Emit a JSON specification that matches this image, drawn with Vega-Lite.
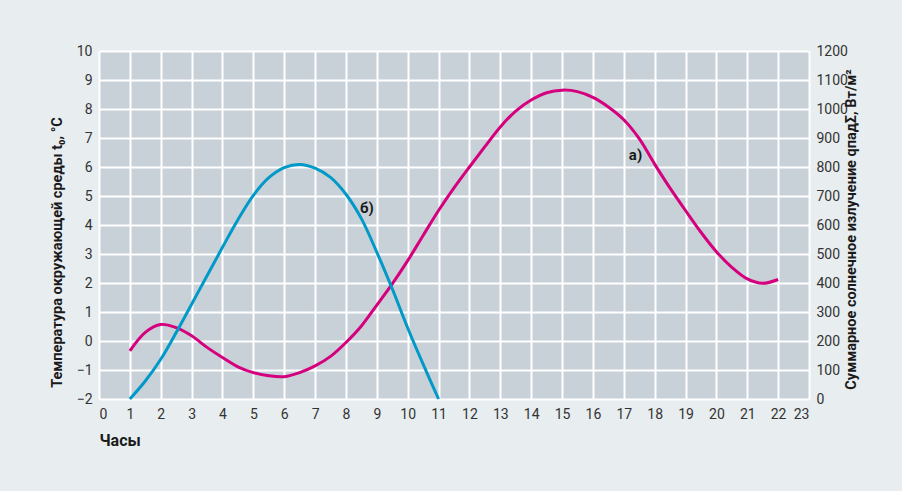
{
  "$schema": "https://vega.github.io/schema/vega-lite/v6.json",
  "width": 710,
  "height": 348,
  "autosize": {"type": "none"},
  "padding": {"left": 99, "top": 51, "right": 93, "bottom": 92},
  "background": "#e8edf0",
  "config": {
    "view": {"fill": "#c9d1d8", "stroke": null},
    "axis": {
      "domain": false,
      "ticks": false,
      "gridColor": "#ffffff",
      "gridWidth": 2,
      "gridOpacity": 1,
      "labelFont": "Roboto, sans-serif",
      "labelFontSize": 14,
      "labelColor": "#333333",
      "labelPadding": 7,
      "labelOverlap": false,
      "titleFont": "Roboto, sans-serif",
      "titleFontWeight": "bold",
      "titleColor": "#1a1a1a",
      "titleFontSize": 14.5
    }
  },
  "datasets": {
    "temp": [
      {"hour": 1, "t": -0.34}, {"hour": 1.5, "t": 0.3}, {"hour": 2, "t": 0.57}, {"hour": 2.5, "t": 0.46},
      {"hour": 3, "t": 0.18}, {"hour": 3.5, "t": -0.22}, {"hour": 4, "t": -0.57}, {"hour": 4.5, "t": -0.89},
      {"hour": 5, "t": -1.09}, {"hour": 5.5, "t": -1.2}, {"hour": 6, "t": -1.23}, {"hour": 6.5, "t": -1.09},
      {"hour": 7, "t": -0.86}, {"hour": 7.5, "t": -0.53}, {"hour": 8, "t": -0.05}, {"hour": 8.5, "t": 0.52},
      {"hour": 9, "t": 1.24}, {"hour": 9.5, "t": 1.97}, {"hour": 10, "t": 2.77}, {"hour": 10.5, "t": 3.64},
      {"hour": 11, "t": 4.5}, {"hour": 11.5, "t": 5.28}, {"hour": 12, "t": 6.0}, {"hour": 12.5, "t": 6.7},
      {"hour": 13, "t": 7.38}, {"hour": 13.5, "t": 7.93}, {"hour": 14, "t": 8.31}, {"hour": 14.5, "t": 8.56},
      {"hour": 15, "t": 8.65}, {"hour": 15.5, "t": 8.6}, {"hour": 16, "t": 8.4}, {"hour": 16.5, "t": 8.07},
      {"hour": 17, "t": 7.63}, {"hour": 17.5, "t": 6.98}, {"hour": 18, "t": 6.1}, {"hour": 18.5, "t": 5.27},
      {"hour": 19, "t": 4.5}, {"hour": 19.5, "t": 3.75}, {"hour": 20, "t": 3.08}, {"hour": 20.5, "t": 2.54},
      {"hour": 21, "t": 2.14}, {"hour": 21.5, "t": 1.99}, {"hour": 22, "t": 2.12}
    ],
    "rad": [
      {"hour": 1, "q": 0}, {"hour": 1.5, "q": 62}, {"hour": 2, "q": 137}, {"hour": 2.5, "q": 229},
      {"hour": 3, "q": 327}, {"hour": 3.5, "q": 425}, {"hour": 4, "q": 523}, {"hour": 4.5, "q": 618},
      {"hour": 5, "q": 702}, {"hour": 5.5, "q": 763}, {"hour": 6, "q": 798}, {"hour": 6.5, "q": 809},
      {"hour": 7, "q": 796}, {"hour": 7.5, "q": 764}, {"hour": 8, "q": 706}, {"hour": 8.5, "q": 622},
      {"hour": 9, "q": 506}, {"hour": 9.5, "q": 380}, {"hour": 10, "q": 245}, {"hour": 10.5, "q": 120},
      {"hour": 11, "q": 0}
    ],
    "labels": [
      {"hour": 8.68, "t": 4.58, "label": "б)"},
      {"hour": 17.38, "t": 6.4, "label": "а)"}
    ]
  },
  "encoding": {
    "x": {"field": "hour", "type": "quantitative", "scale": {"domain": [0, 23], "nice": false},
      "axis": {"values": [0,1,2,3,4,5,6,7,8,9,10,11,12,13,14,15,16,17,18,19,20,21,22,23], "title": "Часы", "titleX": 0, "titleY": 46, "titleAlign": "left", "titleBaseline": "alphabetic", "titleFontSize": 16, "labelBaseline": "top", "labelPadding": 8}}
  },
  "layer": [
    {
      "encoding": {
        "y": {"field": "t", "type": "quantitative", "scale": {"domain": [-2, 10], "nice": false, "zero": false},
          "axis": {"values": [-2,-1,0,1,2,3,4,5,6,7,8,9,10], "title": "Температура окружающей среды t₀, °C", "titleX": -42, "titleY": 201, "titleAlign": "center", "titleBaseline": "middle", "titleAngle": 270}}
      },
      "layer": [
        {
          "data": {"name": "temp"},
          "mark": {"type": "line", "color": "#d5007d", "strokeWidth": 3, "interpolate": "catmull-rom"}
        },
        {
          "data": {"name": "labels"},
          "mark": {"type": "text", "font": "Roboto, sans-serif", "fontWeight": "bold", "fontSize": 15, "color": "#1a1a1a", "align": "center", "baseline": "middle"},
          "encoding": {
            "text": {"field": "label", "type": "nominal"}
          }
        }
      ]
    },
    {
      "data": {"name": "rad"},
      "mark": {"type": "line", "color": "#0099c8", "strokeWidth": 3, "interpolate": "catmull-rom"},
      "encoding": {
        "y": {"field": "q", "type": "quantitative", "scale": {"domain": [0, 1200], "nice": false},
          "axis": {"orient": "right", "grid": false, "format": "d", "values": [0,100,200,300,400,500,600,700,800,900,1000,1100,1200], "title": "Суммарное солнечное излучение qпадΣ, Вт/м²", "titleX": 42, "titleY": 178, "titleAlign": "center", "titleBaseline": "middle", "titleAngle": 270}}
      }
    }
  ],
  "resolve": {"scale": {"y": "independent"}}
}
